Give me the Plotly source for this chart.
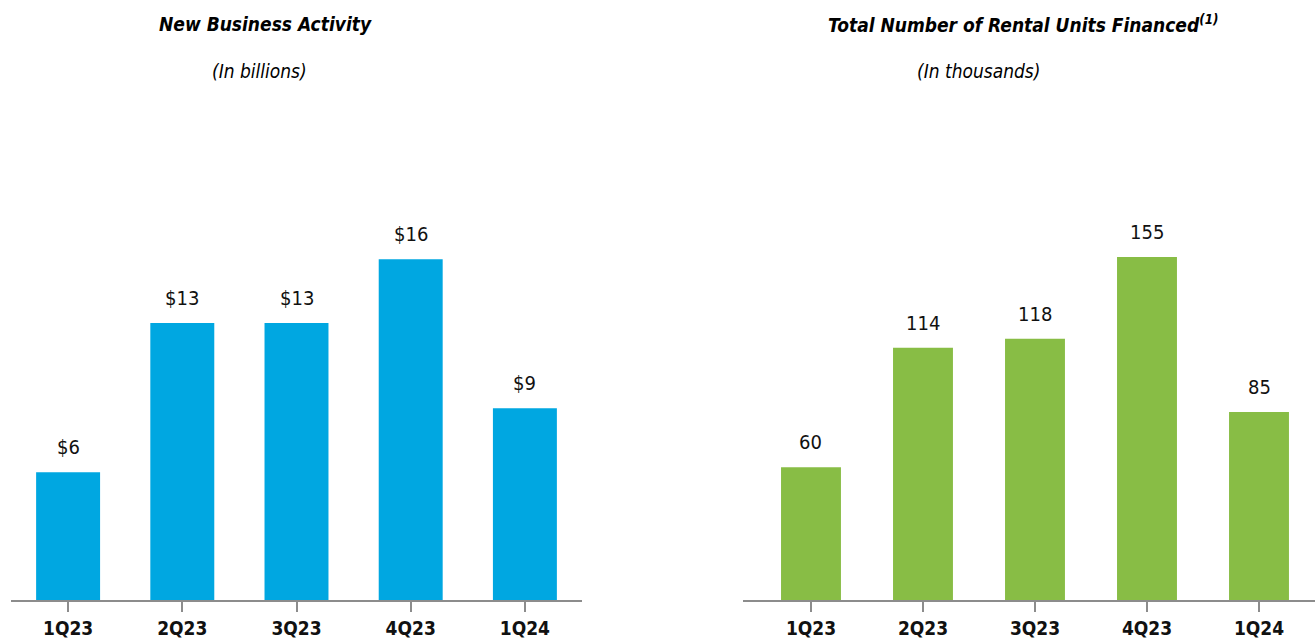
import plotly.graph_objects as go

quarters = ["1Q23", "2Q23", "3Q23", "4Q23", "1Q24"]
new_business = [6, 13, 13, 16, 9]
new_business_labels = ["$6", "$13", "$13", "$16", "$9"]
rental_units = [60, 114, 118, 155, 85]
rental_units_labels = ["60", "114", "118", "155", "85"]

W, H = 1315, 641
FONT = "DejaVu Sans Condensed, Liberation Sans Narrow, Arial Narrow, sans-serif"

fig = go.Figure()
fig.add_trace(go.Bar(x=quarters, y=new_business, cliponaxis=False,
                     marker=dict(color="#00A7E1", line=dict(width=0)),
                     width=0.56, xaxis="x", yaxis="y"))
fig.add_trace(go.Bar(x=quarters, y=rental_units, cliponaxis=False,
                     marker=dict(color="#88BD45", line=dict(width=0)),
                     width=0.535, xaxis="x2", yaxis="y2"))

ybot = (H - 600) / H
ytop = 1 - 100 / H

axis_common = dict(showline=True, linecolor="#8c8c8c", linewidth=2,
                   ticks="outside", ticklen=10, tickwidth=2, tickcolor="#8c8c8c",
                   tickfont=dict(family=FONT, size=19, color="#111", weight="bold"),
                   showgrid=False, zeroline=False, fixedrange=True)

annotations = [
    dict(text="<b><i>New Business Activity</i></b>", x=265 / W, y=1 - 24 / H,
         xref="paper", yref="paper", showarrow=False, xanchor="center", yanchor="middle",
         font=dict(family=FONT, size=19, color="#000")),
    dict(text="<i>(In billions)</i>", x=259 / W, y=1 - 71 / H,
         xref="paper", yref="paper", showarrow=False, xanchor="center", yanchor="middle",
         font=dict(family=FONT, size=19, color="#000")),
    dict(text="<b><i>Total Number of Rental Units Financed<sup>(1)</sup></i></b>",
         x=1023 / W, y=1 - 24 / H,
         xref="paper", yref="paper", showarrow=False, xanchor="center", yanchor="middle",
         font=dict(family=FONT, size=19, color="#000")),
    dict(text="<i>(In thousands)</i>", x=978 / W, y=1 - 71 / H,
         xref="paper", yref="paper", showarrow=False, xanchor="center", yanchor="middle",
         font=dict(family=FONT, size=19, color="#000")),
]
for q, v, t in zip(quarters, new_business, new_business_labels):
    annotations.append(dict(text=t, x=q, y=v, xref="x", yref="y", showarrow=False,
                            xanchor="center", yanchor="bottom", yshift=11,
                            font=dict(family=FONT, size=20, color="#111")))
for q, v, t in zip(quarters, rental_units, rental_units_labels):
    annotations.append(dict(text=t, x=q, y=v, xref="x2", yref="y2", showarrow=False,
                            xanchor="center", yanchor="bottom", yshift=11,
                            font=dict(family=FONT, size=20, color="#111")))

fig.update_layout(
    width=W, height=H, margin=dict(l=0, r=0, t=0, b=0),
    paper_bgcolor="white", plot_bgcolor="white", showlegend=False,
    xaxis=dict(domain=[11 / W, 582 / W], range=[-0.5, 4.5], anchor="y", **axis_common),
    xaxis2=dict(domain=[743 / W, 1.0], range=[-0.607, 4.5], anchor="y2", **axis_common),
    yaxis=dict(domain=[ybot, ytop], range=[0, 500 / 21.3], visible=False, anchor="x"),
    yaxis2=dict(domain=[ybot, ytop], range=[0, 500 / 2.213], visible=False, anchor="x2"),
    annotations=annotations,
)

fig.write_html("out.html", config={"displayModeBar": False},
               post_script="document.body.style.margin='0';document.body.style.overflow='hidden';")
